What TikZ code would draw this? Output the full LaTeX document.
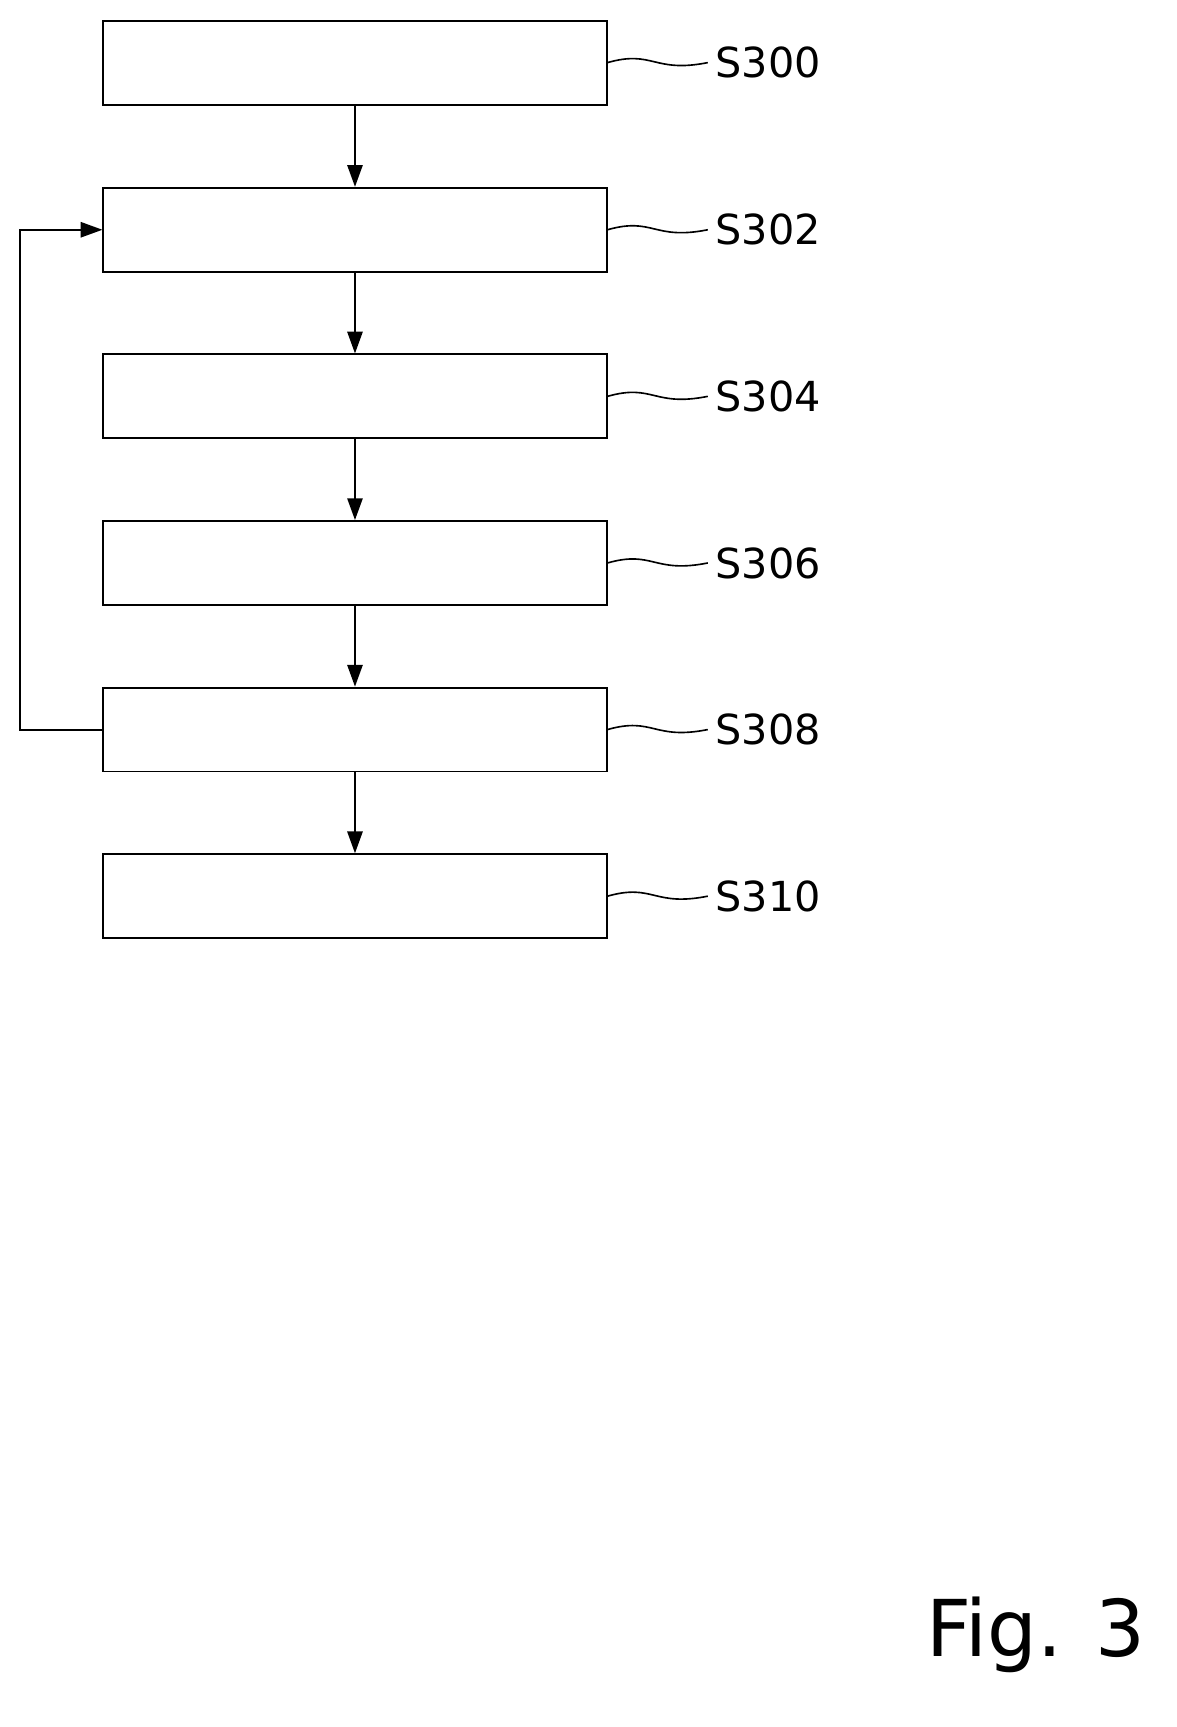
\documentclass[tikz,border=0pt]{standalone}
\usepackage{fontspec}
\setmainfont{DejaVu Sans}
\usetikzlibrary{arrows.meta}
\begin{document}
\begin{tikzpicture}[x=1pt,y=-1pt,
  stepbox/.style={draw,line width=1.8pt,minimum width=462pt,minimum height=77pt,inner sep=0pt},
  flow/.style={line width=1.8pt,-{Triangle[length=20pt,width=14pt]}},
  lead/.style={line width=1.5pt},
  lab/.style={anchor=west,font=\fontsize{38}{40}\selectfont,inner sep=0pt}]
\useasboundingbox (0,0) rectangle (1080,1586);
\foreach \n/\y in {300/57.5,302/211,304/364,306/517,308/670,310/823}{
  \node[stepbox] (b\n) at (326,\y) {};
  \coordinate (e\n) at (650,\y);
  \draw[lead] (b\n.east) .. controls (600,\y-12) and (600,\y+10) .. (e\n);
  \node[lab] (l\n) at (657,\y) {S\n};
}
\draw[flow] (b300) -- (b302);
\draw[flow] (b302) -- (b304);
\draw[flow] (b304) -- (b306);
\draw[flow] (b306) -- (b308);
\draw[flow] (b308) -- (b310);
\draw[flow] (b308.west) -- ++(-76,0) |- (b302.west);
\node[anchor=south east,font=\fontsize{72}{74}\selectfont,inner sep=0pt] (fig) at (1052,1536) {Fig. 3};
\end{tikzpicture}
\end{document}
